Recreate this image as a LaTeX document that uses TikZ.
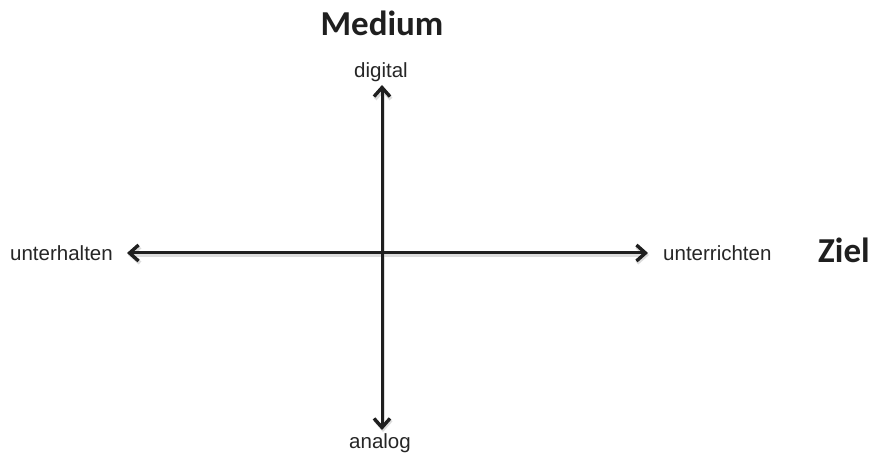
\documentclass[tikz,border=0pt]{standalone}
\usepackage{fontspec}
\setmainfont{Liberation Sans}
\newfontfamily\calib{Carlito}
\usetikzlibrary{arrows.meta}
\begin{document}
\begin{tikzpicture}[x=1pt,y=-1pt,
  tipa/.tip={Straight Barb[length=9pt,width=16pt,line width=3.4pt]},
  tips/.tip={Straight Barb[length=9pt,width=16pt,line width=4pt]},
  axis/.style={line width=3pt, draw=black!88, tipa-tipa},
  shadowax/.style={line width=3.6pt, draw=black!30, opacity=0.45, tips-tips},
  lab/.style={font=\fontsize{20.5}{23}\selectfont, text=black!85, inner sep=0pt},
  big/.style={font=\calib\bfseries\fontsize{35}{38}\selectfont, text=black!88, inner sep=0pt}]
\useasboundingbox (0,0) rectangle (873,454);
\fill[white] (0,0) rectangle (873,454);
\coordinate (top) at (382,85);
\coordinate (bot) at (382,430);
\coordinate (lft) at (127,253);
\coordinate (rgt) at (648,253);
\coordinate (stop) at (383,87);
\coordinate (sbot) at (383,432);
\coordinate (slft) at (128,255);
\coordinate (srgt) at (649,255);
\draw[shadowax] (stop) -- (sbot);
\draw[shadowax] (slft) -- (srgt);
\draw[axis] (top) -- (bot);
\draw[axis] (lft) -- (rgt);
\node[big] (medium) at (382,23) {Medium};
\node[lab] (digital) at (381,72) {digital};
\node[lab, anchor=west] (unterhalten) at (10,253) {unterhalten};
\node[lab, anchor=west] (unterrichten) at (663,253) {unterrichten};
\node[big, anchor=west] (ziel) at (818,250) {Ziel};
\node[lab] (analog) at (380,443) {analog};
\end{tikzpicture}
\end{document}
